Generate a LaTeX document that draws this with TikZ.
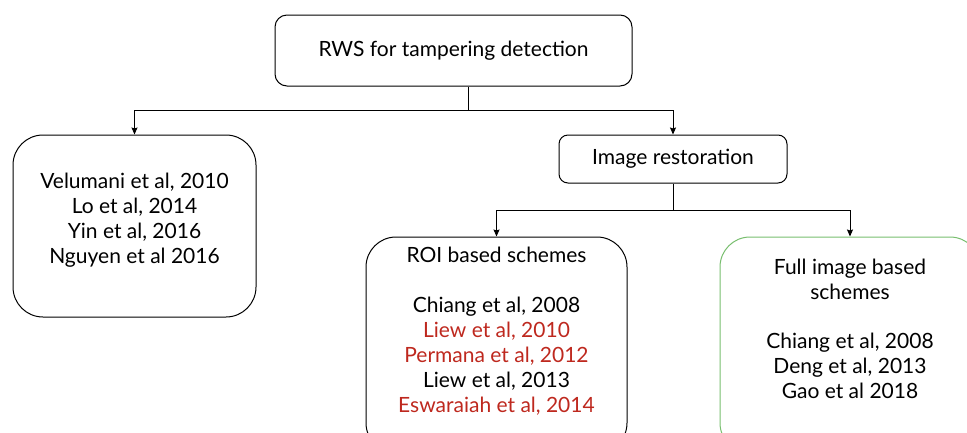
\documentclass[tikz,border=0pt]{standalone}
\usepackage{fontspec}
\setmainfont{Lato}
\usetikzlibrary{arrows.meta,positioning}
\definecolor{citeRed}{RGB}{190,40,30}
\definecolor{boxGreen}{RGB}{120,190,110}

\begin{document}
\begin{tikzpicture}
[x=1pt,y=-1pt,
  font=\fontsize{21}{25}\selectfont,
  boxDecorate/.style={draw,rounded corners=#1,line width=1pt,align=center,inner sep=0pt},
  textDecorate/.style={align=center,inner sep=0pt},
  lineDecorate/.style={line width=1pt},
  arrowDecorate/.style={line width=1pt,-{Stealth[length=7pt,width=6pt,inset=1pt]}}]
%% frame
\useasboundingbox (0,0) rectangle (967,432);
\clip (0,0) rectangle (967,432);
%% boxes
\node (top) at (453.5,50.5) [boxDecorate=12pt,minimum width=357pt,minimum height=71pt] {RWS for tampering detection};
\node (left) at (134.5,226) [boxDecorate=30pt,minimum width=243pt,minimum height=182pt] {};
\node (restore) at (673,159) [boxDecorate=9pt,minimum width=228pt,minimum height=48pt] {Image restoration};
\node (roi) at (496.5,345) [boxDecorate=30pt,minimum width=261pt,minimum height=216pt] {};
\node (full) at (850,345) [boxDecorate=30pt,draw=boxGreen,minimum width=260pt,minimum height=216pt] {};
%% texts
\node (lefttext) [textDecorate,below=38pt of left.north] {Velumani et al, 2010\\Lo et al, 2014\\Yin et al, 2016\\Nguyen et al 2016};
\node (roitext) [textDecorate,below=10pt of roi.north] {ROI based schemes\\[25pt]Chiang et al, 2008\\\textcolor{citeRed}{Liew et al, 2010}\\\textcolor{citeRed}{Permana et al, 2012}\\Liew et al, 2013\\\textcolor{citeRed}{Eswaraiah et al, 2014}};
\node (fulltext) [textDecorate,below=22pt of full.north] {Full image based\\schemes\\[24pt]Chiang et al, 2008\\Deng et al, 2013\\Gao et al 2018};
%% connectors
\coordinate (split1) at (468,110);
\coordinate (split2) at (673,210);
\draw[lineDecorate] (top.south -| split1) -- (split1);
\draw[lineDecorate] (restore.south) -- (split2);
\foreach \startnode/\endnode in {split1/left, split1/restore, split2/roi, split2/full}
{
  \draw[arrowDecorate] (\startnode) -| (\endnode.north);
}
\end{tikzpicture}
\end{document}
